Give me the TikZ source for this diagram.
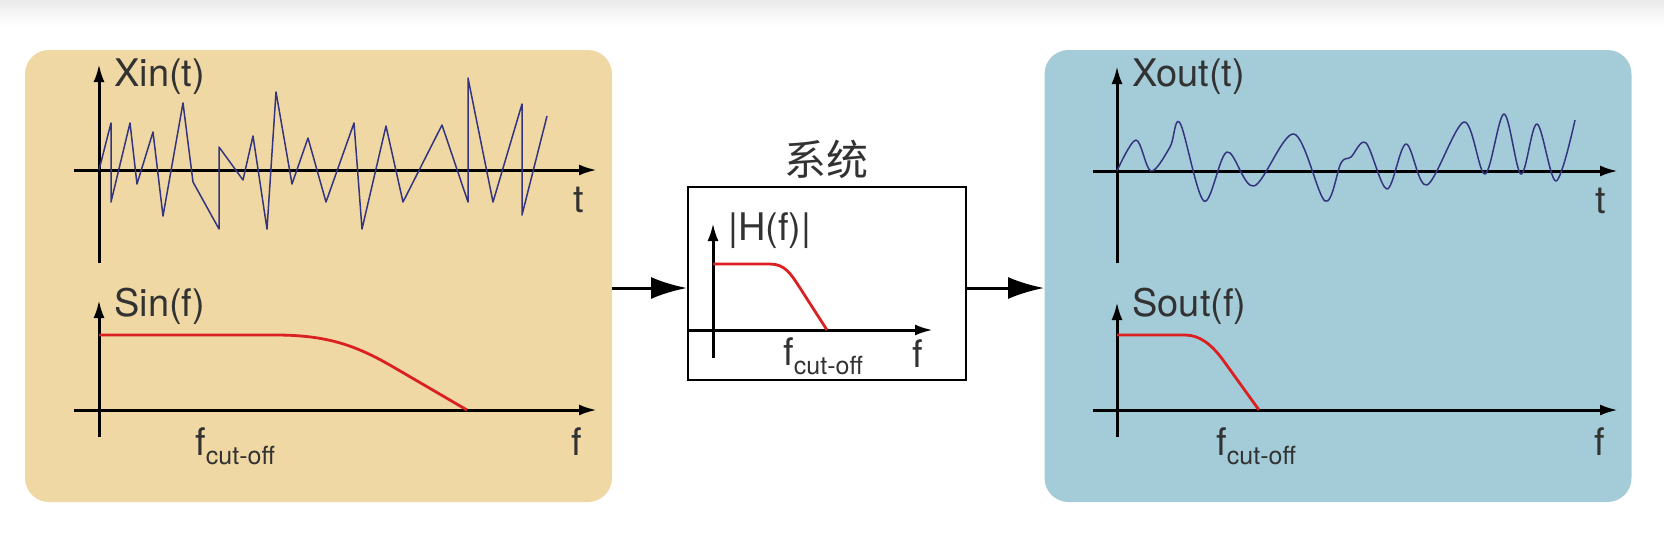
\documentclass[tikz,border=0pt]{standalone}
\usepackage{fontspec}
\setmainfont{TeX Gyre Heros}
\newfontfamily\cjk{Noto Sans CJK SC}
\usetikzlibrary{arrows.meta}
\definecolor{panelin}{RGB}{239,216,163}
\definecolor{panelout}{RGB}{164,203,216}
\definecolor{sigblue}{RGB}{52,52,128}
\definecolor{passred}{RGB}{218,32,32}
\definecolor{inkgray}{RGB}{50,50,50}
\tikzset{
  panel/.style={rounded corners=12pt, minimum width=293.5pt, minimum height=226pt, inner sep=0pt},
  axis/.style={line width=1.5pt, -{Latex[length=9pt,width=5.5pt]}},
  signal/.style={line width=0.75pt, color=sigblue, line join=round},
  pass/.style={line width=1.4pt, color=passred},
  lbl/.style={inner sep=0pt, text=inkgray, font=\fontsize{19}{22}\selectfont},
  flow/.style={line width=1.5pt, -{Latex[length=18pt,width=11pt]}},
}
\newcommand{\fcut}{f\raisebox{-4.5pt}{\fontsize{12.5}{14}\selectfont cut-off}}

\begin{document}
\begin{tikzpicture}[x=0.5pt, y=-0.5pt]
		%%%%% START %%%%%
		\useasboundingbox (0,0) rectangle (1664,543);
		\shade[top color=black!8, bottom color=white] (0,0) rectangle (1664,26);
		
		\node[panel, fill=panelin] (inpanel) at (318.5,276) {};
		\node[panel, fill=panelout] (outpanel) at (1338,276) {};
		\node[draw, line width=1pt, minimum width=139pt, minimum height=96.5pt, inner sep=0pt] (sys) at (827,283.5) {};
		\node[lbl, font=\cjk\fontsize{21}{24}\selectfont] (systitle) at (826,159) {系统};
		
		% input, time
		\draw[axis] (74,170) -- (597,170);
		\draw[axis] (99,263) -- (99,64);
		\draw[signal] (99,170) -- (111,123) -- (111,202) -- (130,123) -- (137,184) -- (153,132) -- (163,216) -- (183,103) -- (193,182) -- (219,229) -- (219,147) -- (243,180) -- (253,136) -- (267,229) -- (276,92) -- (292,184) -- (308,138) -- (326,202) -- (354,123) -- (362,229) -- (386,126) -- (403,202) -- (442,125) -- (468,202) -- (468,78) -- (493,202) -- (522,104) -- (522,215) -- (547,116);
		\node[lbl, anchor=base west] (xin) at (114,86) {Xin(t)};
		\node[lbl, anchor=base] (tin) at (579,212) {t};
		
		% input, spectrum
		\draw[axis] (74,410) -- (597,410);
		\draw[axis] (99,437) -- (99,300);
		\draw[pass] (99,335) -- (276,335) .. controls (330,335) and (359,347) .. (395,368) -- (467,410);
		\node[lbl, anchor=base west] (sin) at (114,316) {Sin(f)};
		\node[lbl, anchor=base west] (fcin) at (195,455) {\fcut};
		\node[lbl, anchor=base] (fin) at (577,455) {f};
		
		% system
		\draw[axis] (688,330) -- (933,330);
		\draw[axis] (713,358) -- (713,223);
		\draw[pass] (713,264) -- (770,264) .. controls (785,264) and (791,274) .. (800,288) -- (827,330);
		\node[lbl, anchor=base west] (hlabel) at (728,240) {|H(f)|};
		\node[lbl, anchor=base west] (fcsys) at (783,365) {\fcut};
		\node[lbl, anchor=base] (fsys) at (918,367) {f};
		
		% output, time
		\draw[axis] (1093,171) -- (1618,171);
		\draw[axis] (1117,263) -- (1117,66);
		\draw[signal] plot[smooth, tension=0.55] coordinates {(1117,171) (1136,140) (1151,171) (1170,147) (1180,123) (1204,201) (1227,152) (1254,186) (1294,134) (1325,201) (1341,163) (1351,157) (1366,143) (1387,189) (1406,144) (1427,185) (1464,122) (1485,174) (1504,114) (1521,174) (1537,124) (1556,181) (1575,120)};
		\node[lbl, anchor=base west] (xout) at (1132,86) {Xout(t)};
		\node[lbl, anchor=base] (tout) at (1601,213) {t};
		
		% output, spectrum
		\draw[axis] (1093,410) -- (1618,410);
		\draw[axis] (1117,437) -- (1117,302);
		\draw[pass] (1117,335) -- (1185,335) .. controls (1200,335) and (1212,345) .. (1223,360) -- (1259,410);
		\node[lbl, anchor=base west] (sout) at (1132,316) {Sout(f)};
		\node[lbl, anchor=base west] (fcout) at (1216,455) {\fcut};
		\node[lbl, anchor=base] (fout) at (1600,455) {f};
		
		% flow
		\coordinate (flowy) at (0,288);
		\draw[flow] (inpanel.east |- flowy) -- (sys.west |- flowy);
		\draw[flow] (sys.east |- flowy) -- (outpanel.west |- flowy);
		
		%%%%% END %%%%%
\end{tikzpicture}
\end{document}
